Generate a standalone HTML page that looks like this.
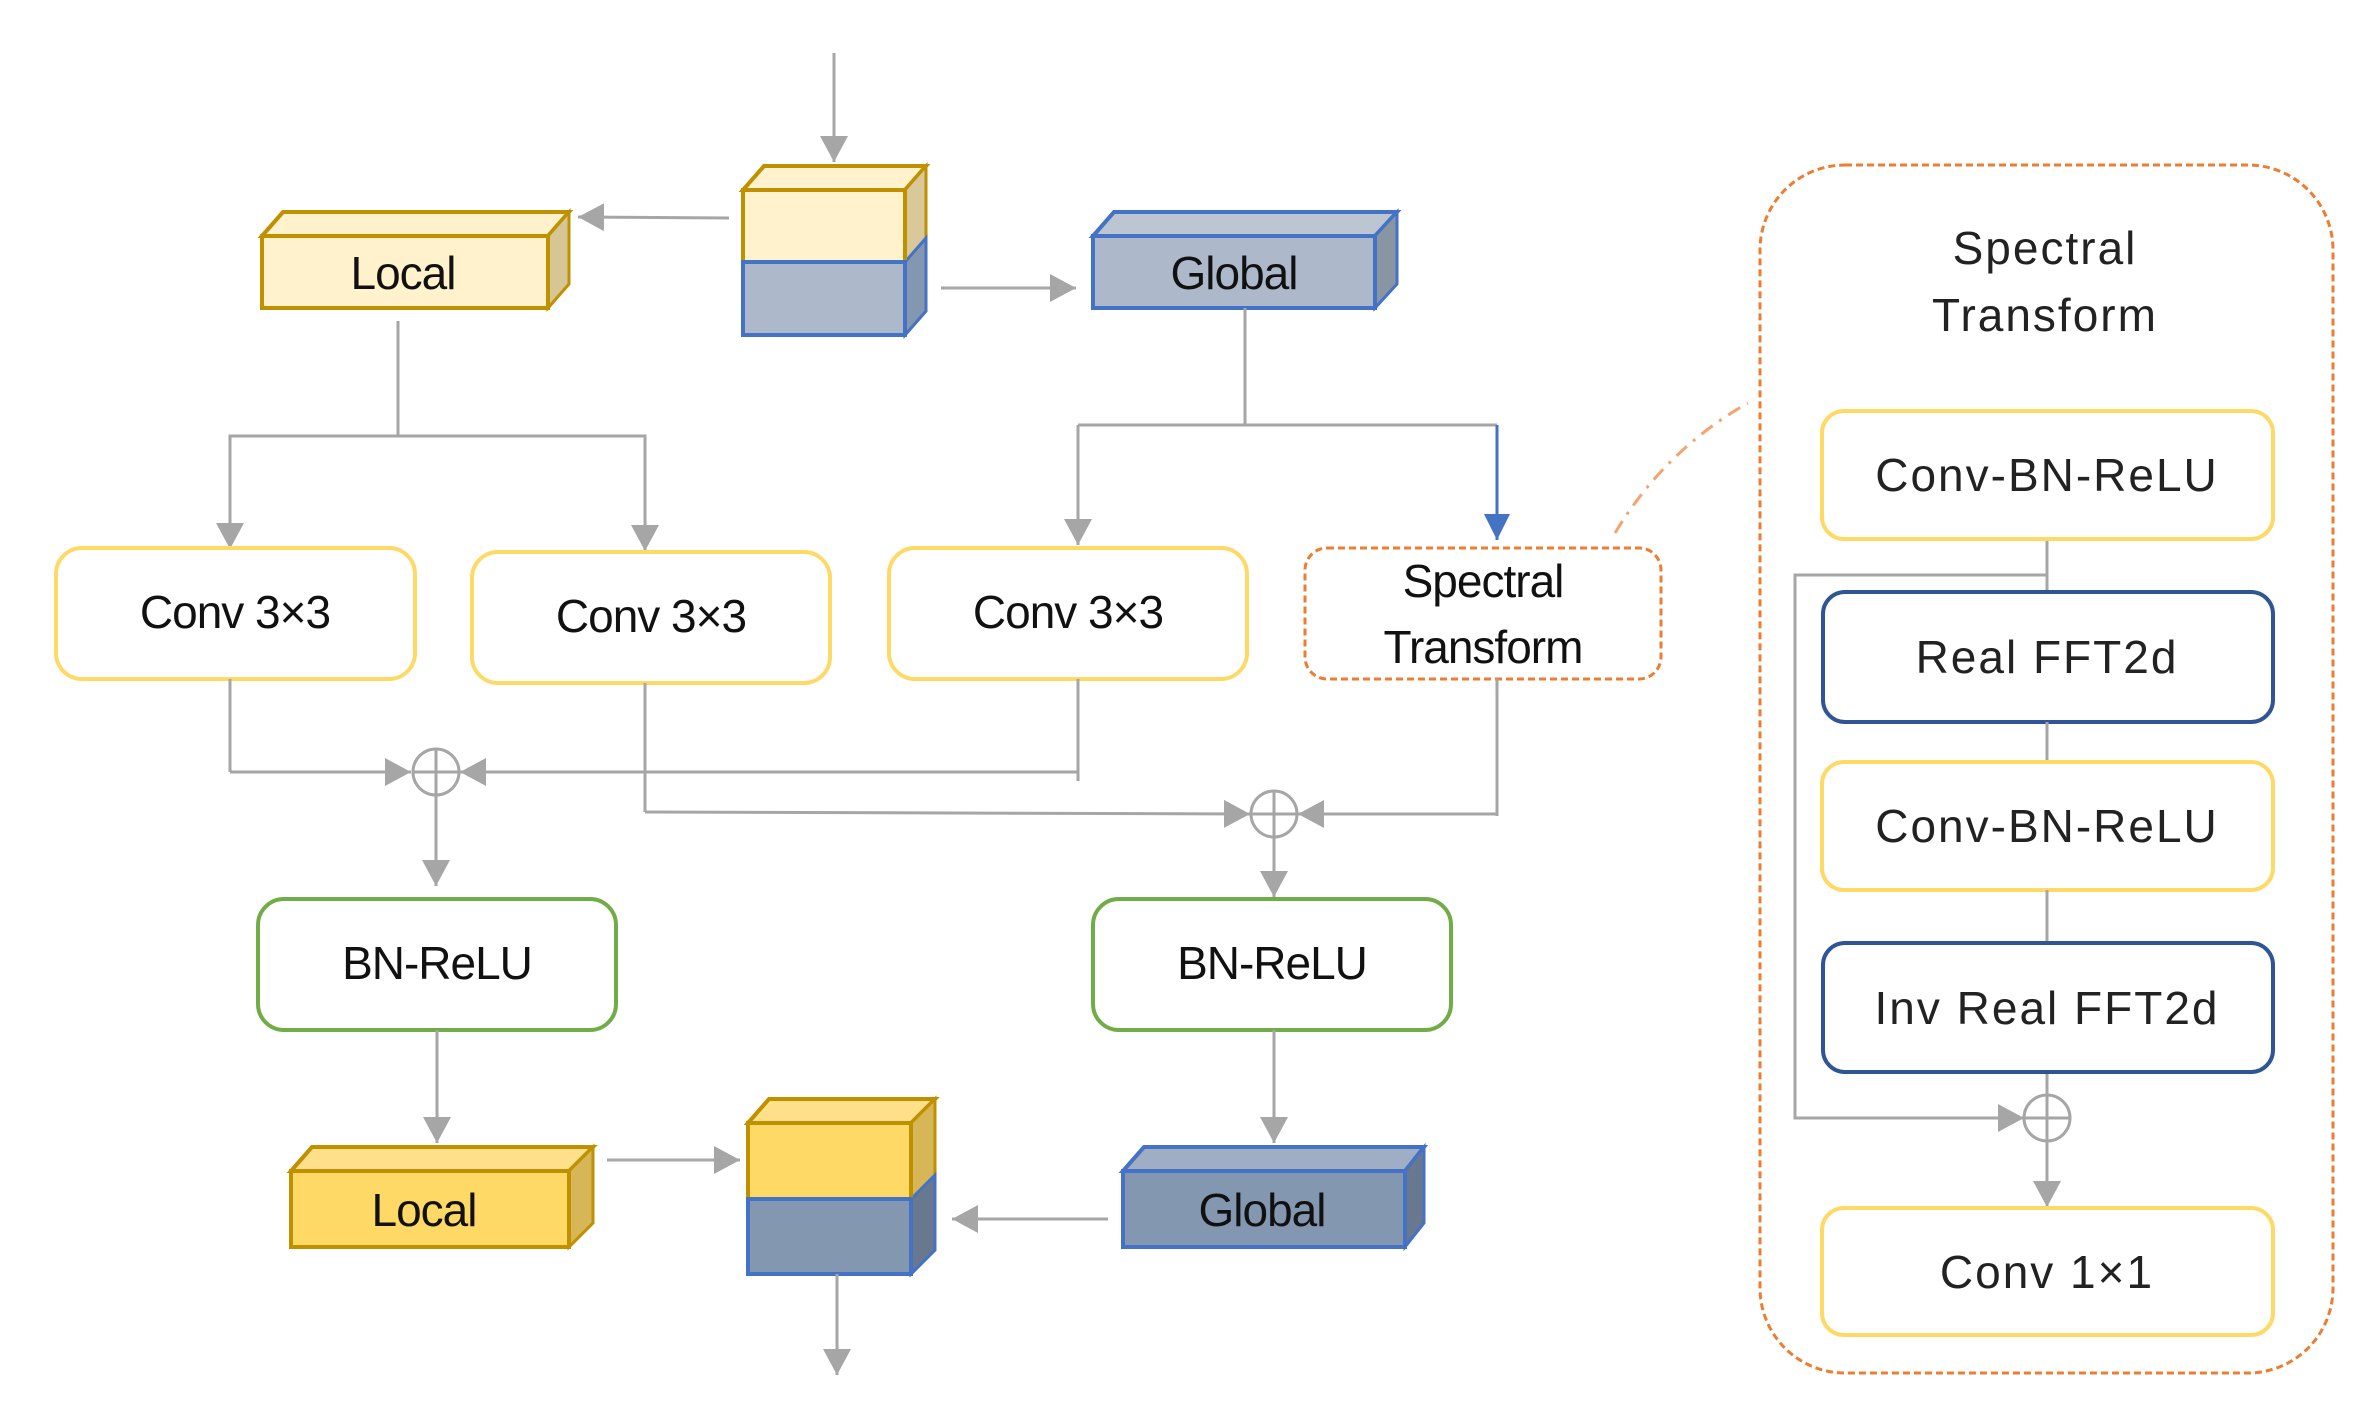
<!DOCTYPE html>
<html><head><meta charset="utf-8"><style>
html,body{margin:0;padding:0;background:#fff;}
svg{display:block;}
.t{font-family:"Liberation Sans",sans-serif;fill:#111;text-anchor:middle;}
.m{font-size:46px;letter-spacing:-1px;}
.r{font-size:46px;letter-spacing:2px;fill:#222;}
.g{stroke:#A6A6A6;stroke-width:3;fill:none;}
</style></head><body>
<svg width="2379" height="1428" viewBox="0 0 2379 1428" xmlns="http://www.w3.org/2000/svg">
<defs>
<marker id="a" markerUnits="userSpaceOnUse" markerWidth="30" markerHeight="30" refX="26" refY="15" orient="auto"><path d="M0,1 L26,15 L0,29 Z" fill="#A6A6A6"/></marker>
<marker id="b" markerUnits="userSpaceOnUse" markerWidth="30" markerHeight="30" refX="26" refY="15" orient="auto"><path d="M0,2 L26,15 L0,28 Z" fill="#4472C4"/></marker>
</defs>

<!-- input arrow -->
<line class="g" x1="834" y1="53" x2="834" y2="162" marker-end="url(#a)"/>

<!-- top cube -->
<polygon points="743,190 764,166 926,166 905,190" fill="#FFF2CC" stroke="#BF9000" stroke-width="4"/>
<polygon points="905,190 926,166 926,311 905,335" fill="#D9C99A" stroke="#BF9000" stroke-width="3"/>
<polygon points="905,262 926,238 926,311 905,335" fill="#8497B0" stroke="#4472C4" stroke-width="3"/>
<rect x="743" y="190" width="162" height="72" fill="#FFF2CC" stroke="#BF9000" stroke-width="4"/>
<rect x="743" y="262" width="162" height="73" fill="#ADB9CA" stroke="#4472C4" stroke-width="4"/>

<!-- top Local -->
<polygon points="262,236 283,212 569,212 548,236" fill="#FFF2CC" stroke="#BF9000" stroke-width="4"/>
<polygon points="548,236 569,212 569,284 548,308" fill="#D6C595" stroke="#BF9000" stroke-width="3"/>
<rect x="262" y="236" width="286" height="72" fill="#FFF2CC" stroke="#BF9000" stroke-width="4"/>
<text class="t m" x="403" y="289">Local</text>

<!-- top Global -->
<polygon points="1093,236 1114,212 1397,212 1375,236" fill="#BCC6D3" stroke="#4472C4" stroke-width="4"/>
<polygon points="1375,236 1397,212 1397,284 1375,308" fill="#8A95A3" stroke="#4472C4" stroke-width="3"/>
<rect x="1093" y="236" width="282" height="72" fill="#ADB9CA" stroke="#4472C4" stroke-width="4"/>
<text class="t m" x="1234" y="289">Global</text>

<line class="g" x1="729" y1="218" x2="578" y2="217" stroke-width="5" marker-end="url(#a)"/>
<line class="g" x1="941" y1="288" x2="1076" y2="288" stroke-width="5" marker-end="url(#a)"/>

<!-- branches -->
<polyline class="g" points="398,321 398,436"/>
<polyline class="g" points="230,549 230,436 645,436 645,551" marker-end="url(#a)"/>
<line class="g" x1="230" y1="436" x2="230" y2="549" marker-end="url(#a)"/>
<polyline class="g" points="1245,308 1245,425"/>
<polyline class="g" points="1078,425 1497,425"/>
<line class="g" x1="1078" y1="425" x2="1078" y2="545" marker-end="url(#a)"/>
<line x1="1497" y1="425" x2="1497" y2="540" stroke="#4472C4" stroke-width="3" marker-end="url(#b)"/>

<!-- conv boxes -->
<rect x="56" y="548" width="359" height="131" rx="26" fill="#fff" stroke="#FFD966" stroke-width="4"/>
<text class="t m" x="235" y="628">Conv 3×3</text>
<rect x="472" y="552" width="358" height="131" rx="26" fill="#fff" stroke="#FFD966" stroke-width="4"/>
<text class="t m" x="651" y="632">Conv 3×3</text>
<rect x="889" y="548" width="358" height="131" rx="26" fill="#fff" stroke="#FFD966" stroke-width="4"/>
<text class="t m" x="1068" y="628">Conv 3×3</text>
<rect x="1305" y="548" width="356" height="131" rx="22" fill="#fff" stroke="#ED7D31" stroke-width="3" stroke-dasharray="7,4"/>
<text class="t m" x="1483" y="597">Spectral</text>
<text class="t m" x="1483" y="663">Transform</text>

<!-- connector dashed -->
<path d="M1615,533 Q1665,450 1748,403" fill="none" stroke="#F4A46E" stroke-width="3" stroke-dasharray="14,8,3,8"/>

<!-- sums -->
<line class="g" x1="230" y1="679" x2="230" y2="772"/>
<line class="g" x1="230" y1="772" x2="411" y2="772" marker-end="url(#a)"/>
<line class="g" x1="1078" y1="679" x2="1078" y2="781"/>
<line class="g" x1="1078" y1="772" x2="460" y2="772" marker-end="url(#a)"/>
<circle cx="436" cy="772" r="23" fill="#fff" stroke="#A6A6A6" stroke-width="3"/>
<line class="g" x1="413" y1="772" x2="459" y2="772"/>
<line class="g" x1="436" y1="749" x2="436" y2="795"/>
<line class="g" x1="436" y1="795" x2="436" y2="886" marker-end="url(#a)"/>

<line class="g" x1="645" y1="683" x2="645" y2="812"/>
<line class="g" x1="645" y1="812" x2="1250" y2="814" marker-end="url(#a)"/>
<line class="g" x1="1497" y1="679" x2="1497" y2="816"/>
<line class="g" x1="1497" y1="814" x2="1298" y2="814" marker-end="url(#a)"/>
<circle cx="1274" cy="814" r="23" fill="#fff" stroke="#A6A6A6" stroke-width="3"/>
<line class="g" x1="1251" y1="814" x2="1297" y2="814"/>
<line class="g" x1="1274" y1="791" x2="1274" y2="837"/>
<line class="g" x1="1274" y1="837" x2="1274" y2="897" marker-end="url(#a)"/>

<!-- BN-ReLU -->
<rect x="258" y="899" width="358" height="131" rx="26" fill="#fff" stroke="#70AD47" stroke-width="4"/>
<text class="t m" x="437" y="979">BN-ReLU</text>
<rect x="1093" y="899" width="358" height="131" rx="26" fill="#fff" stroke="#70AD47" stroke-width="4"/>
<text class="t m" x="1272" y="979">BN-ReLU</text>

<line class="g" x1="437" y1="1030" x2="437" y2="1143" marker-end="url(#a)"/>
<line class="g" x1="1274" y1="1030" x2="1274" y2="1143" marker-end="url(#a)"/>

<!-- bottom Local -->
<polygon points="291,1171 312,1147 593,1147 569,1171" fill="#FFE08A" stroke="#BF9000" stroke-width="4"/>
<polygon points="569,1171 593,1147 593,1223 569,1247" fill="#D6B656" stroke="#BF9000" stroke-width="3"/>
<rect x="291" y="1171" width="278" height="76" fill="#FFD966" stroke="#BF9000" stroke-width="4"/>
<text class="t m" x="424" y="1226">Local</text>

<!-- bottom cube -->
<polygon points="748,1123 769,1099 935,1099 911,1123" fill="#FFE08A" stroke="#BF9000" stroke-width="4"/>
<polygon points="911,1123 935,1099 935,1250 911,1274" fill="#D6B656" stroke="#BF9000" stroke-width="3"/>
<polygon points="911,1199 935,1175 935,1250 911,1274" fill="#67788F" stroke="#4472C4" stroke-width="3"/>
<rect x="748" y="1123" width="163" height="76" fill="#FFD966" stroke="#BF9000" stroke-width="4"/>
<rect x="748" y="1199" width="163" height="75" fill="#8497B0" stroke="#4472C4" stroke-width="4"/>

<!-- bottom Global -->
<polygon points="1123,1171 1144,1147 1424,1147 1405,1171" fill="#9FAEC4" stroke="#4472C4" stroke-width="4"/>
<polygon points="1405,1171 1424,1147 1424,1223 1405,1247" fill="#67788F" stroke="#4472C4" stroke-width="3"/>
<rect x="1123" y="1171" width="282" height="76" fill="#8497B0" stroke="#4472C4" stroke-width="4"/>
<text class="t m" x="1262" y="1226">Global</text>

<line class="g" x1="607" y1="1160" x2="740" y2="1160" stroke-width="5" marker-end="url(#a)"/>
<line class="g" x1="1108" y1="1219" x2="952" y2="1219" stroke-width="5" marker-end="url(#a)"/>
<line class="g" x1="837" y1="1274" x2="837" y2="1375" marker-end="url(#a)"/>

<!-- right panel -->
<rect x="1760" y="165" width="573" height="1208" rx="85" fill="none" stroke="#ED7D31" stroke-width="3" stroke-dasharray="7,4"/>
<text class="t r" x="2045" y="264">Spectral</text>
<text class="t r" x="2045" y="331">Transform</text>

<line class="g" x1="2047" y1="539" x2="2047" y2="1207" marker-end="url(#a)"/>
<polyline class="g" points="2047,575 1795,575 1795,1118 2024,1118" marker-end="url(#a)"/>
<circle cx="2047" cy="1118" r="23" fill="#fff" stroke="#A6A6A6" stroke-width="3"/>
<line class="g" x1="2024" y1="1118" x2="2070" y2="1118"/>
<line class="g" x1="2047" y1="1095" x2="2047" y2="1141"/>

<rect x="1822" y="411" width="451" height="128" rx="22" fill="#fff" stroke="#FFD966" stroke-width="4"/>
<text class="t r" x="2047" y="491">Conv-BN-ReLU</text>
<rect x="1823" y="592" width="450" height="130" rx="22" fill="#fff" stroke="#2F5597" stroke-width="4"/>
<text class="t r" x="2047" y="673">Real FFT2d</text>
<line class="g" x1="2047" y1="722" x2="2047" y2="762"/>
<rect x="1822" y="762" width="451" height="128" rx="22" fill="#fff" stroke="#FFD966" stroke-width="4"/>
<text class="t r" x="2047" y="842">Conv-BN-ReLU</text>
<line class="g" x1="2047" y1="890" x2="2047" y2="943"/>
<rect x="1823" y="943" width="450" height="129" rx="22" fill="#fff" stroke="#2F5597" stroke-width="4"/>
<text class="t r" x="2047" y="1024">Inv Real FFT2d</text>
<rect x="1822" y="1208" width="451" height="127" rx="22" fill="#fff" stroke="#FFD966" stroke-width="4"/>
<text class="t r" x="2047" y="1288">Conv 1×1</text>
</svg>
</body></html>
